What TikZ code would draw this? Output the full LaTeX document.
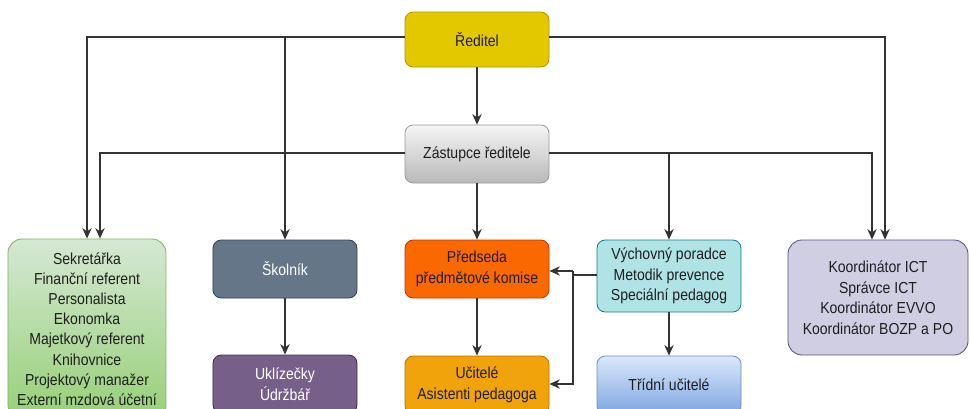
\documentclass[tikz,border=0pt]{standalone}
\usepackage{fontspec}
\setmainfont[FakeStretch=0.88]{Liberation Sans}
\usepackage{xcolor}
\definecolor{dioyellow}{HTML}{E3C800}
\definecolor{dioyellowline}{HTML}{B09500}
\definecolor{diogreenA}{HTML}{D5E8D4}
\definecolor{diogreenB}{HTML}{97D077}
\definecolor{diogreenline}{HTML}{82B366}
\definecolor{dioslate}{HTML}{647687}
\definecolor{dioslateline}{HTML}{314354}
\definecolor{diomauve}{HTML}{76608A}
\definecolor{diomauveline}{HTML}{432D57}
\definecolor{dioorange}{HTML}{FA6800}
\definecolor{dioorangeline}{HTML}{C73500}
\definecolor{dioamber}{HTML}{F0A30A}
\definecolor{dioamberline}{HTML}{BD7000}
\definecolor{dioteal}{HTML}{B0E3E6}
\definecolor{diotealline}{HTML}{0E8088}
\definecolor{dioblueA}{HTML}{DAE8FC}
\definecolor{dioblueB}{HTML}{7EA6E0}
\definecolor{diobluelin}{HTML}{6C8EBF}
\definecolor{diolav}{HTML}{D0CEE2}
\definecolor{diolavline}{HTML}{56517E}
\definecolor{dioline}{HTML}{333333}
\usetikzlibrary{arrows.meta,positioning,calc}

\begin{document}
\begin{tikzpicture}[
    x=0.03cm, y=-0.03cm,
    orgbox/.style={rectangle, rounded corners=7pt, line width=0.7pt, align=center,
                   font=\fontsize{13.6}{17.5}\selectfont, text=black!88,
                   minimum width=4.32cm, minimum height=1.74cm, inner sep=1pt},
    bigbox/.style={orgbox, rounded corners=12pt},
    link/.style={-{Stealth[length=9pt,width=8pt]}, line width=1pt, dioline},
    wire/.style={line width=1pt, dioline}
  ]
    \useasboundingbox (0,0) rectangle (970,408);
    \clip (0,0) rectangle (970,408);

    % top of the chart
    \node[orgbox, fill=dioyellow, draw=dioyellowline, minimum height=1.65cm] (reditel) at (477,39.5) {Ředitel};
    \node[orgbox, top color=gray!8, bottom color=gray!55, draw=gray!80, minimum height=1.74cm] (zastupce) at (477,154) {Zástupce ředitele};

    % second row
    \node[bigbox, top color=diogreenA, bottom color=diogreenB, draw=diogreenline,
          minimum width=4.74cm, minimum height=5.4cm, font=\fontsize{13.6}{17.2}\selectfont] (sekretariat) at (87,329)
          {Sekretářka\\Finanční referent\\Personalista\\Ekonomka\\Majetkový referent\\Knihovnice\\Projektový manažer\\Externí mzdová účetní};
    \node[orgbox, fill=dioslate, draw=dioslateline, text=white] (skolnik) at (285,269) {Školník};
    \node[orgbox, fill=dioorange, draw=dioorangeline] (predseda) at (477,269) {Předseda\\předmětové komise};
    \node[orgbox, fill=dioteal, draw=diotealline, minimum height=2.16cm] (vychovny) at (669,276) {Výchovný poradce\\Metodik prevence\\Speciální pedagog};
    \node[bigbox, fill=diolav, draw=diolavline, minimum width=5.4cm, minimum height=3.45cm] (koordinator) at (878,297.5)
          {Koordinátor ICT\\Správce ICT\\Koordinátor EVVO\\Koordinátor BOZP a PO};

    % third row
    \node[orgbox, fill=diomauve, draw=diomauveline, text=white] (uklizecky) at (285,384) {Uklízečky\\Údržbář};
    \node[orgbox, fill=dioamber, draw=dioamberline] (ucitele) at (477,385) {Učitelé\\Asistenti pedagoga};
    \node[orgbox, top color=dioblueA, bottom color=dioblueB, draw=diobluelin] (tridni) at (669,385) {Třídní učitelé};

    % bends
    \coordinate (rl) at (87,37);
    \coordinate (rs) at (285,37);
    \coordinate (rr) at (885,37);
    \coordinate (zl) at (100,153);
    \coordinate (zv) at (669,153);
    \coordinate (zr) at (872,153);
    \coordinate (vj) at (573,275);

    % Arrows
    \draw[link] (reditel) -- (zastupce);
    \draw[link] (reditel.west |- rl) -- (rl) -- (sekretariat.north);
    \draw[link] (rs) -- (skolnik.north);
    \draw[link] (reditel.east |- rr) -- (rr) -- (rr |- koordinator.north);
    \draw[link] (zastupce.west |- zl) -- (zl) -- (zl |- sekretariat.north);
    \draw[link] (zastupce.east |- zr) -- (zr) -- (zr |- koordinator.north);
    \draw[link] (zv) -- (vychovny.north);
    \draw[link] (zastupce) -- (predseda);
    \draw[link] (skolnik) -- (uklizecky);
    \draw[link] (predseda) -- (ucitele);
    \draw[link] (vychovny) -- (tridni);
    \draw[wire] (vychovny.west |- vj) -- (vj);
    \draw[link] (vj |- 0,271) -- (predseda.east |- 0,271);
    \draw[link] (vj |- 0,271) -- (vj |- 0,384) -- (ucitele.east |- 0,384);
\end{tikzpicture}
\end{document}
